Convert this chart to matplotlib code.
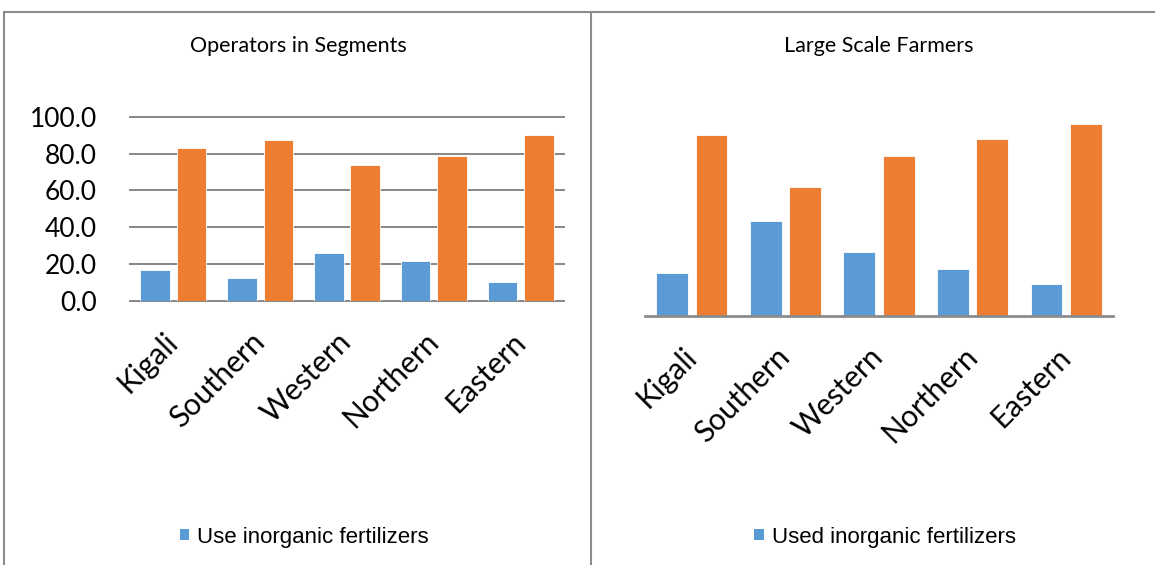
import matplotlib
matplotlib.use('Agg')
import matplotlib.pyplot as plt
from matplotlib.patches import Patch
from matplotlib.lines import Line2D
import numpy as np

plt.rcParams['font.family'] = ['Lato', 'DejaVu Sans']

# data
regions = ['Kigali', 'Southern', 'Western', 'Northern', 'Eastern']
seg_use = [17.0, 12.5, 26.0, 21.5, 10.2]
seg_other = [83.0, 87.5, 74.0, 78.5, 89.8]
lsf_used = [19.2, 42.4, 28.4, 21.0, 14.4]
lsf_other = [80.8, 57.5, 71.4, 79.0, 85.7]
y_ticks = [0, 20, 40, 60, 80, 100]

W, H = 1155, 565
BLUE = '#5b9bd5'
ORANGE = '#ed7d31'
GRAY = '#8c8c8c'

fig = plt.figure(figsize=(W / 100, H / 100), dpi=100)


def px_axes(x0, x1, y0, y100):
    # pixel box -> figure fraction (y measured from top)
    return fig.add_axes([x0 / W, (H - y0) / H, (x1 - x0) / W, (y0 - y100) / H])


def draw_bars(ax, blue, orange):
    x = np.arange(len(regions))
    ax.bar(x - 0.21, blue, width=0.34, color=BLUE, edgecolor='white', linewidth=0.6, zorder=3)
    ax.bar(x + 0.21, orange, width=0.34, color=ORANGE, edgecolor='white', linewidth=0.6, zorder=3)
    ax.set_xlim(-0.5, len(regions) - 0.5)
    ax.set_ylim(0, 100)
    ax.set_xticks(x)
    ax.set_xticklabels(regions, rotation=45, ha='right', va='center',
                       rotation_mode='anchor', fontsize=21.5)
    ax.tick_params(axis='x', length=0, pad=26)
    for s in ax.spines.values():
        s.set_visible(False)


# left panel
ax1 = px_axes(130, 564, 301, 116.7)
draw_bars(ax1, seg_use, seg_other)
ax1.set_yticks(y_ticks)
ax1.set_yticklabels([f'{v:.1f}' for v in y_ticks], fontsize=19)
ax1.tick_params(axis='y', length=0, pad=24)
for v in y_ticks:
    ax1.axhline(v, color='#868686', linewidth=1.4, zorder=1, clip_on=False)

# right panel
ax2 = px_axes(645, 1113, 316, 92)
draw_bars(ax2, lsf_used, lsf_other)
ax2.set_yticks([])
ax2.axhline(0, color=GRAY, linewidth=2, zorder=4, clip_on=False)

# panel titles
fig.text(298 / W, 1 - 46 / H, 'Operators in Segments', ha='center', va='center', fontsize=15.5)
fig.text(879 / W, 1 - 46 / H, 'Large Scale Farmers', ha='center', va='center', fontsize=15.5)

# legends (only the blue series)
for cx, label in [(304, 'Use inorganic fertilizers'), (885, 'Used inorganic fertilizers')]:
    fig.legend(handles=[Patch(facecolor=BLUE, edgecolor='none', label=label)],
               loc='center', bbox_to_anchor=(cx / W, 1 - 537 / H), frameon=False,
               prop={'family': 'Liberation Sans', 'size': 16},
               handlelength=0.42, handleheight=0.42, handletextpad=0.35)

# chart frames
frame = dict(color=GRAY, linewidth=1.5, transform=fig.transFigure)
fig.add_artist(Line2D([4 / W, 1], [1 - 12 / H, 1 - 12 / H], **frame))
fig.add_artist(Line2D([4 / W, 4 / W], [0, 1 - 12 / H], **frame))
fig.add_artist(Line2D([591 / W, 591 / W], [0, 1 - 12 / H], **frame))

fig.savefig('out.png', dpi=100)
